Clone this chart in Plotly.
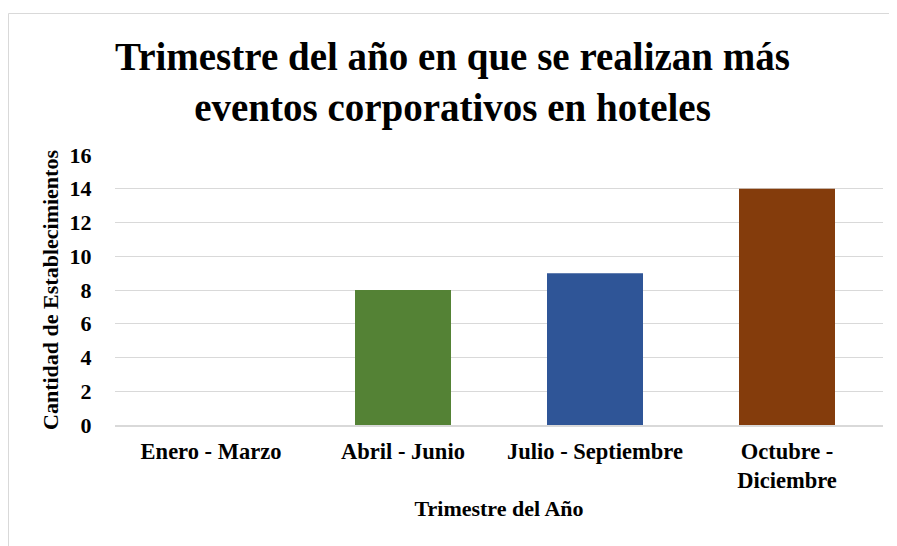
import plotly.graph_objects as go

categories = ["Enero - Marzo", "Abril - Junio", "Julio - Septiembre", "Octubre -<br>Diciembre"]
values = [0, 8, 9, 14]
bar_colors = ["#BF9000", "#548235", "#2F5597", "#843C0C"]
y_ticks = [0, 2, 4, 6, 8, 10, 12, 14, 16]

title_text = "Trimestre del año en que se realizan más<br>eventos corporativos en hoteles"
x_title = "Trimestre del Año"
y_title = "Cantidad de Establecimientos"

FONT = "Liberation Serif, Times New Roman, serif"

# the page body has an 8px margin, so the figure is a bit smaller than the window
W, H = 889, 538
L, R, T, B = 107, 14, 147, 121
plot_h = H - T - B
plot_w = W - L - R

fig = go.Figure()
fig.add_trace(go.Bar(
    x=categories, y=values,
    marker=dict(color=bar_colors, line=dict(width=0)),
    width=0.5,
))

def px_to_paper_y(py):
    return (H - B - py) / plot_h

def px_to_paper_x(px):
    return (px - L) / plot_w

fig.update_layout(
    width=W, height=H,
    margin=dict(l=L, r=R, t=T, b=B, pad=0, autoexpand=False),
    paper_bgcolor="white", plot_bgcolor="white",
    showlegend=False,
    font=dict(family=FONT, color="black"),
    title=dict(
        text=title_text,
        font=dict(family=FONT, size=39, color="black", weight="bold"),
        x=0.5, xref="container", xanchor="center",
        y=1 - 62 / H, yref="container", yanchor="top",
        automargin=False,
    ),
    xaxis=dict(
        automargin=False,
        showgrid=False,
        showline=True, linecolor="#d9d9d9", linewidth=2,
        ticks="outside", ticklen=5, tickcolor="rgba(0,0,0,0)",
        tickfont=dict(family=FONT, size=22.5, color="black", weight="bold"),
        title=dict(text=x_title, font=dict(family=FONT, size=22, color="black", weight="bold"), standoff=8),
    ),
    yaxis=dict(
        automargin=False,
        range=[0, 16], tickvals=y_ticks,
        showgrid=True, gridcolor="#d9d9d9", gridwidth=1,
        zeroline=False, showline=False,
        ticks="outside", ticklen=18, tickcolor="rgba(0,0,0,0)",
        tickfont=dict(family=FONT, size=22, color="black", weight="bold"),
        title=dict(text=y_title, font=dict(family=FONT, size=22, color="black", weight="bold"), standoff=4),
    ),
    shapes=[dict(
        type="rect", xref="paper", yref="paper",
        x0=px_to_paper_x(0.5), x1=px_to_paper_x(W + 5),
        y0=px_to_paper_y(H + 5), y1=px_to_paper_y(5.5),
        line=dict(color="#d9d9d9", width=1), fillcolor="rgba(0,0,0,0)",
        layer="below",
    )],
)

fig.write_html("out.html")
